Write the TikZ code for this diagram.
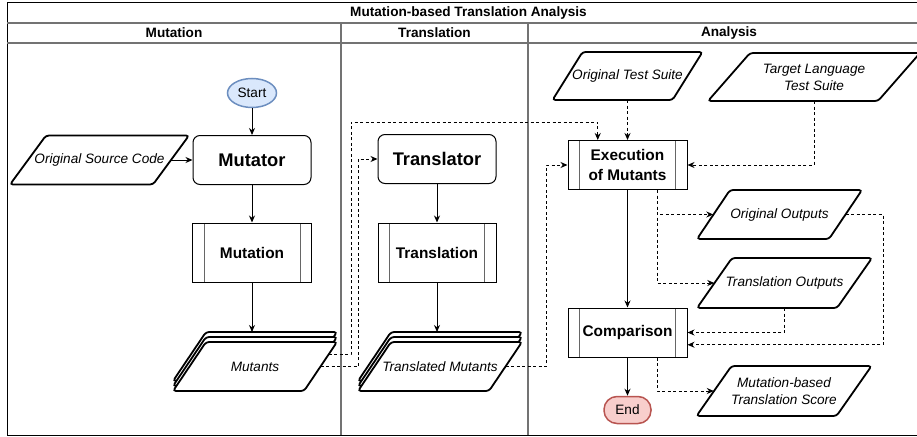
\documentclass[tikz,border=0pt]{standalone}
\usepackage{fontspec}
\setmainfont{Liberation Sans}
\usetikzlibrary{calc,arrows.meta,shapes.geometric}
\definecolor{startfill}{HTML}{DAE8FC}
\definecolor{startline}{HTML}{6C8EBF}
\definecolor{endfill}{HTML}{F8CECC}
\definecolor{endline}{HTML}{B85450}
\def\iobox(#1)(#2:#3:#4)#5#6{\draw[iopath] ($(#1)+(-#2/2+#4,-#3/2)$) -- ($(#1)+(#2/2,-#3/2)$) -- ($(#1)+(#2/2-#4,#3/2)$) -- ($(#1)+(-#2/2,#3/2)$) -- cycle;
	\node[iotext, minimum width=#2-#4, minimum height=#3] (#5) at (#1) {#6};}
\def\iostack(#1)(#2:#3:#4)#5#6{\foreach \dy in {-10,-5,0}{\draw[iopath] ($(#1)+(0,\dy)+(-#2/2+#4,-#3/2)$) -- ($(#1)+(0,\dy)+(#2/2,-#3/2)$) -- ($(#1)+(0,\dy)+(#2/2-#4,#3/2)$) -- ($(#1)+(0,\dy)+(-#2/2,#3/2)$) -- cycle;}
	\coordinate (#5-top) at ($(#1)+(0,-#3/2-10)$);
	\node[iotext, minimum width=#2-#4, minimum height=#3] (#5) at (#1) {#6};}
\tikzset{
	lane/.style={draw=black!55, line width=1.2pt},
	head/.style={font=\fontsize{13.6}{16}\selectfont\bfseries},
	rbox/.style={draw, line width=1pt, rounded corners=7pt, fill=white, minimum width=118pt, minimum height=49pt, font=\fontsize{18.3}{20}\selectfont\bfseries},
	procbox/.style={draw, line width=1pt, fill=white, minimum width=119pt, minimum height=49pt, align=center, font=\fontsize{15.4}{20}\selectfont\bfseries,
		path picture={\draw[black!60, line width=1pt] ([xshift=11.5pt]path picture bounding box.north west) -- ([xshift=11.5pt]path picture bounding box.south west) ([xshift=-11.5pt]path picture bounding box.north east) -- ([xshift=-11.5pt]path picture bounding box.south east);}},
	iopath/.style={draw, line width=1.8pt, rounded corners=3pt, fill=white},
	iotext/.style={inner sep=0pt, align=center, font=\fontsize{13.6}{17}\selectfont\itshape},
	terminal/.style={inner sep=0pt, line width=1.5pt, font=\fontsize{13.6}{16}\selectfont},
	flow/.style={-{Stealth[length=7pt,width=6pt]}, line width=1pt},
	dflow/.style={flow, dash pattern=on 3pt off 2.5pt},
}
\begin{document}
\begin{tikzpicture}[x=1pt, y=-1pt]
			%%%%% START %%%%%
			\useasboundingbox (0,0) rectangle (917,436);
			
			% lanes
			\draw[line width=1pt] (7,3) rectangle (930,435);
			\draw[lane] (7,23) -- (930,23);
			\draw[lane] (7,43) -- (930,43);
			\draw[lane] (341,23) -- (341,435);
			\draw[lane] (528,23) -- (528,435);
			\node[head] (title) at (468.5,13) {Mutation-based Translation Analysis};
			\node[head] (laneM) at (174,33) {Mutation};
			\node[head] (laneT) at (434.5,33) {Translation};
			\node[head] (laneA) at (729,33) {Analysis};
			
			% mutation
			\node[terminal, ellipse, draw=startline, fill=startfill, minimum width=49pt, minimum height=29pt] (Start) at (252,93) {Start};
			\node[rbox] (Mutator) at (252,160) {Mutator};
			\iobox(99.5,160)(179:49:36){src}{Original Source Code}
			\node[procbox, minimum height=59pt] (Mutation) at (252,252.5) {Mutation};
			\iostack(255,366.5)(164:49:33){Mutants}{Mutants}
			
			% translation
			\node[rbox] (Translator) at (437,159) {Translator};
			\node[procbox, minimum width=118pt, minimum height=59pt] (Translation) at (437,252.5) {Translation};
			\iostack(440,366.5)(164:49:33){TM}{Translated Mutants}
			
			% analysis
			\iobox(627.5,76)(150:48:30){ots}{Original Test Suite}
			\iobox(814,77)(212:48:42){tlts}{Target Language\\Test Suite}
			\node[procbox] (Exec) at (627.5,165) {Execution\\of Mutants};
			\iobox(779.5,214.5)(165:49:33){oo}{Original Outputs}
			\iobox(784.5,283)(175:50:35){to}{Translation Outputs}
			\node[procbox] (Comp) at (627.5,332.5) {Comparison};
			\iobox(784,391)(175:50:35){mts}{Mutation-based\\Translation Score}
			\node[terminal, draw=endline, fill=endfill, rounded corners=13pt, minimum width=47pt, minimum height=27pt] (End) at (627.5,410) {End};
			
			% solid flow
			\draw[flow] (Start) -- (Mutator);
			\draw[flow] (src.east) -- (src.east -| Mutator.west);
			\draw[flow] (Mutator) -- (Mutation);
			\draw[flow] (Mutation.south) -- (Mutation.south |- Mutants-top);
			\draw[flow] (Translator) -- (Translation);
			\draw[flow] (Translation.south) -- (Translation.south |- TM-top);
			\draw[flow] (Exec) -- (Comp);
			\draw[flow] (Comp) -- (End);
			
			% dashed flow
			\draw[dflow] ($(Mutants.east)+(8,-12)$) -| (351,122) -| ($(Exec.north)+(-29.75,0)$);
			\draw[dflow] (Mutants.east) -- ++(37.5,0) |- (Translator.west);
			\draw[dflow] (TM.east) -- ++(40.5,0) |- (Exec.west);
			\draw[dflow] (ots) -- (Exec);
			\draw[dflow] (tlts.south) |- (Exec.east);
			\draw[dflow] ($(Exec.south)+(29.75,0)$) |- (oo.west);
			\draw[dflow] ($(Exec.south)+(29.75,0)$) |- (to.west);
			\draw[dflow] (oo.east) -- ++(37.5,0) |- ($(Comp.east)+(0,12.25)$);
			\draw[dflow] (to.south) |- (Comp.east);
			\draw[dflow] ($(Comp.south)+(29.75,0)$) |- (mts.west);
			
			%%%%% END %%%%%
\end{tikzpicture}
\end{document}
